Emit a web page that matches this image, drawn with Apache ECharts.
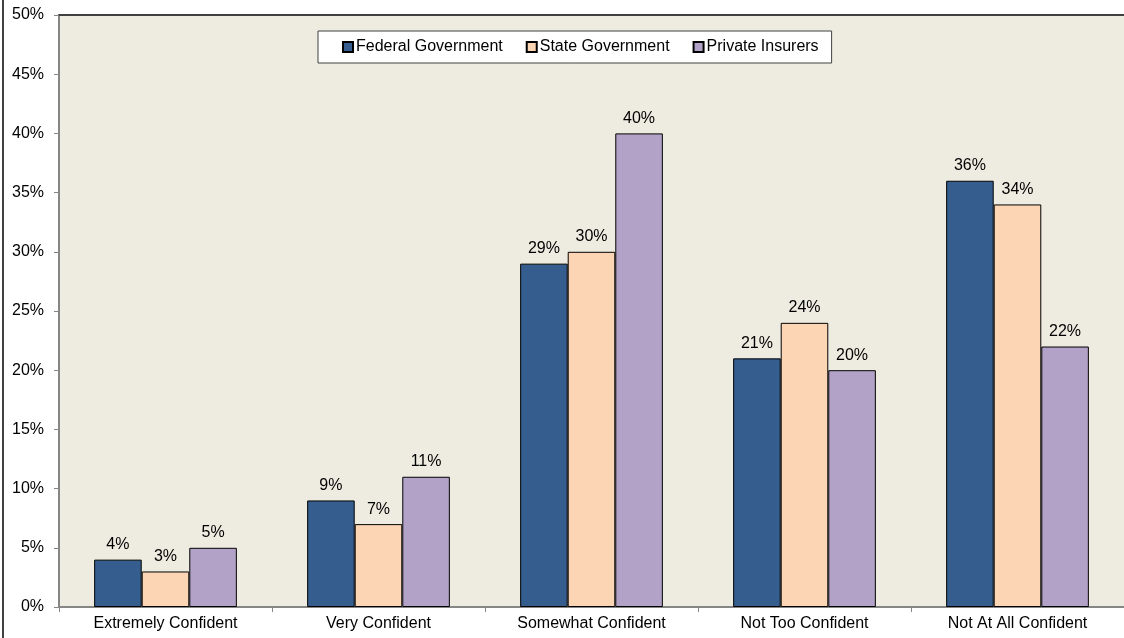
<!DOCTYPE html>
<html>
<head>
<meta charset="utf-8">
<style>
  html, body { margin: 0; padding: 0; background: #fff; }
  #chart { width: 1124px; height: 638px; }
</style>
<script src="https://cdn.jsdelivr.net/npm/echarts@6/dist/echarts.min.js"></script>
</head>
<body>
<div id="chart"></div>
<script>
// Confidence levels asked about, one group of bars per answer
const categories = ['Extremely Confident', 'Very Confident', 'Somewhat Confident', 'Not Too Confident', 'Not At All Confident'];

// Share of respondents (%) for each payer
const federalGovernment = [4, 9, 29, 21, 36];
const stateGovernment   = [3, 7, 30, 24, 34];
const privateInsurers   = [5, 11, 40, 20, 22];

const seriesNames = ['Federal Government', 'State Government', 'Private Insurers'];
const seriesColors = ['#355E8E', '#FCD5B5', '#B3A2C7'];
const seriesData = [federalGovernment, stateGovernment, privateInsurers];

const font = 'Arial, "Liberation Sans", sans-serif';

const chart = echarts.init(document.getElementById('chart'), null, { renderer: 'canvas' });

chart.setOption({
  animation: false,
  backgroundColor: '#ffffff',
  textStyle: { fontFamily: font },
  grid: {
    left: 59, right: 0, top: 15, bottom: 31,
    show: true,
    backgroundColor: '#EEECE1',
    borderWidth: 0
  },
  legend: {
    left: 318, top: 31,
    orient: 'horizontal',
    backgroundColor: '#ffffff',
    borderColor: '#404040',
    borderWidth: 1,
    padding: [8, 13, 8, 24],
    itemGap: 23,
    itemWidth: 10,
    itemHeight: 10,
    icon: 'rect',
    textStyle: { fontFamily: font, fontSize: 16, color: '#000', padding: [0, 0, 0, -2] },
    data: seriesNames
  },
  xAxis: [{
    type: 'category',
    data: categories,
    axisLine: { lineStyle: { color: '#868686', width: 2 } },
    axisTick: { show: true, length: 5, lineStyle: { color: '#868686' } },
    axisLabel: { fontFamily: font, fontSize: 16, color: '#000', margin: 9, interval: 0 },
    splitLine: { show: false }
  }, {
    type: 'category',
    data: categories,
    position: 'top',
    axisLine: { show: true, lineStyle: { color: '#404040', width: 2 } },
    axisTick: { show: false },
    axisLabel: { show: false }
  }],
  yAxis: {
    type: 'value',
    min: 0, max: 50, interval: 5,
    axisLine: { show: true, lineStyle: { color: '#868686', width: 2 } },
    axisTick: { show: true, length: 5, inside: false, lineStyle: { color: '#868686' } },
    axisLabel: { fontFamily: font, fontSize: 16, color: '#000', margin: 15, formatter: '{value}%' },
    splitLine: { show: false }
  },
  series: seriesNames.map((name, i) => ({
    name,
    type: 'bar',
    data: seriesData[i],
    barGap: '0%',
    barCategoryGap: '33%',
    itemStyle: { color: seriesColors[i], borderColor: '#000', borderWidth: 1 },
    label: {
      show: true,
      position: 'top',
      distance: 7,
      formatter: '{c}%',
      fontFamily: font,
      fontSize: 16,
      color: '#000'
    }
  })),
  graphic: [{
    type: 'line',
    shape: { x1: 3, y1: 0, x2: 3, y2: 638 },
    style: { stroke: '#000', lineWidth: 1.5 }
  }]
});
</script>
</body>
</html>
